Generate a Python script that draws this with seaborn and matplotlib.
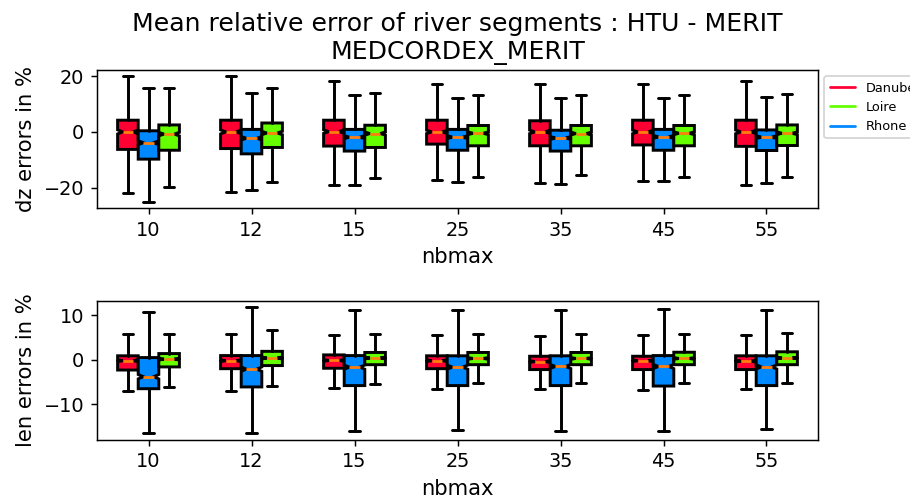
import numpy as np
import seaborn as sns
import matplotlib.pyplot as plt
from matplotlib.lines import Line2D

nbmax = ["10", "12", "15", "25", "35", "45", "55"]
rivers = ["Danube", "Rhone", "Loire"]          # drawing order inside a group
legend_rivers = ["Danube", "Loire", "Rhone"]
river_colors = {"Danube": "#ff0033", "Loire": "#66ff00", "Rhone": "#0088ff"}
n_segments = 500   # rough sample size, only used for notch width

# dz errors in %, rows = Danube, Rhone, Loire
dz_hi = [[20.0, 20.0, 18.4, 17.3, 17.1, 17.3, 18.2],
         [15.6, 13.9, 13.2, 12.2, 12.2, 12.1, 12.7],
         [15.8, 15.7, 13.8, 13.4, 13.2, 13.4, 13.5]]
dz_q3 = [[4.2, 4.2, 4.2, 4.2, 4.0, 4.2, 4.2],
         [0.4, 0.9, 0.9, 0.9, 0.6, 0.9, 0.7],
         [2.5, 3.2, 2.4, 2.3, 2.3, 2.3, 2.5]]
dz_med = [[0.0, 0.0, 0.1, 0.0, 0.0, 0.0, 0.0],
          [-3.9, -2.3, -1.9, -1.9, -2.2, -1.8, -1.9],
          [-0.8, -0.4, -0.6, -0.5, -0.6, -0.5, -0.5]]
dz_q1 = [[-6.3, -6.0, -5.1, -4.4, -5.0, -4.7, -5.2],
         [-9.8, -7.9, -6.9, -6.6, -6.9, -6.6, -6.7],
         [-6.6, -5.6, -5.6, -5.0, -5.0, -5.0, -4.9]]
dz_lo = [[-21.9, -21.5, -19.1, -17.3, -18.4, -17.8, -19.1],
         [-25.1, -20.9, -19.1, -18.0, -18.6, -17.7, -18.4],
         [-19.7, -18.0, -16.7, -16.1, -15.5, -16.1, -16.1]]

# len errors in %, rows = Danube, Rhone, Loire
len_hi = [[5.8, 5.8, 5.6, 5.6, 5.4, 5.6, 5.5],
          [10.8, 11.8, 11.3, 11.3, 11.1, 11.4, 11.3],
          [5.9, 6.7, 5.8, 5.8, 5.9, 5.9, 6.0]]
len_q3 = [[0.9, 0.95, 1.1, 0.9, 0.8, 0.8, 0.9],
          [0.5, 0.95, 0.95, 0.9, 0.9, 0.95, 0.9],
          [1.4, 1.9, 1.65, 1.65, 1.65, 1.7, 1.8]]
len_med = [[-0.2, -0.2, -0.15, -0.2, -0.4, -0.2, -0.3],
           [-3.8, -2.1, -1.65, -1.65, -1.5, -1.5, -1.6],
           [0.15, 0.4, 0.4, 0.3, 0.3, 0.3, 0.4]]
len_q1 = [[-2.3, -2.0, -1.9, -2.0, -2.2, -2.2, -2.2],
          [-6.5, -6.1, -5.8, -5.8, -5.8, -5.9, -5.8],
          [-1.6, -1.3, -1.1, -1.1, -1.1, -1.1, -1.1]]
len_lo = [[-7.1, -7.0, -6.4, -6.6, -6.6, -6.8, -6.6],
          [-16.5, -16.5, -16.0, -15.7, -15.9, -16.0, -15.6],
          [-6.2, -5.9, -5.5, -5.3, -5.3, -5.3, -5.3]]


def draw_panel(ax, lo, q1, med, q3, hi, ylabel):
    offsets = [-0.2, 0.0, 0.2]
    for r, river in enumerate(rivers):
        stats = []
        for i in range(len(nbmax)):
            ci = 1.57 * (q3[r][i] - q1[r][i]) / np.sqrt(n_segments)
            stats.append(dict(med=med[r][i], q1=q1[r][i], q3=q3[r][i],
                              whislo=lo[r][i], whishi=hi[r][i],
                              cilo=med[r][i] - ci, cihi=med[r][i] + ci,
                              fliers=[]))
        pos = np.arange(1, len(nbmax) + 1) + offsets[r]
        ax.bxp(stats, positions=pos, widths=0.2, patch_artist=True,
               shownotches=True, showfliers=False, manage_ticks=False,
               boxprops=dict(facecolor=river_colors[river], edgecolor="black", linewidth=1.6),
               whiskerprops=dict(color="black", linewidth=1.6),
               capprops=dict(color="black", linewidth=1.6),
               medianprops=dict(color="#ff7f0e", linewidth=1.5))
    ax.set_xlim(0.5, len(nbmax) + 0.5)
    ax.set_xticks(np.arange(1, len(nbmax) + 1))
    ax.set_xticklabels(nbmax)
    ax.set_xlabel("nbmax")
    ax.set_ylabel(ylabel)


def main():
    sns.set_theme(style="ticks", rc={
        "axes.edgecolor": "black", "axes.labelcolor": "black", "text.color": "black",
        "xtick.color": "black", "ytick.color": "black",
        "font.size": 10, "axes.titlesize": 13.7, "axes.labelsize": 11.5,
        "xtick.labelsize": 10.5, "ytick.labelsize": 10.5, "legend.fontsize": 7,
        "axes.linewidth": 0.8, "xtick.major.width": 0.8, "ytick.major.width": 0.8,
        "xtick.major.size": 3.5, "ytick.major.size": 3.5,
    })
    plt.rcParams["font.family"] = ["DejaVu Sans"]

    fig = plt.figure(figsize=(910 / 132, 502 / 132), dpi=132)
    ax1 = fig.add_axes([0.1066, 0.5857, 0.7923, 0.2749])
    ax2 = fig.add_axes([0.1066, 0.1245, 0.7923, 0.2759])

    draw_panel(ax1, dz_lo, dz_q1, dz_med, dz_q3, dz_hi, "dz errors in %")
    draw_panel(ax2, len_lo, len_q1, len_med, len_q3, len_hi, "len errors in %")

    ax1.set_title("Mean relative error of river segments : HTU - MERIT\nMEDCORDEX_MERIT")
    handles = [Line2D([], [], color=river_colors[r], linewidth=1.5) for r in legend_rivers]
    ax1.legend(handles, legend_rivers, loc="upper left", bbox_to_anchor=(1, 1))

    fig.savefig("out.png", dpi=132)


if __name__ == "__main__":
    main()
